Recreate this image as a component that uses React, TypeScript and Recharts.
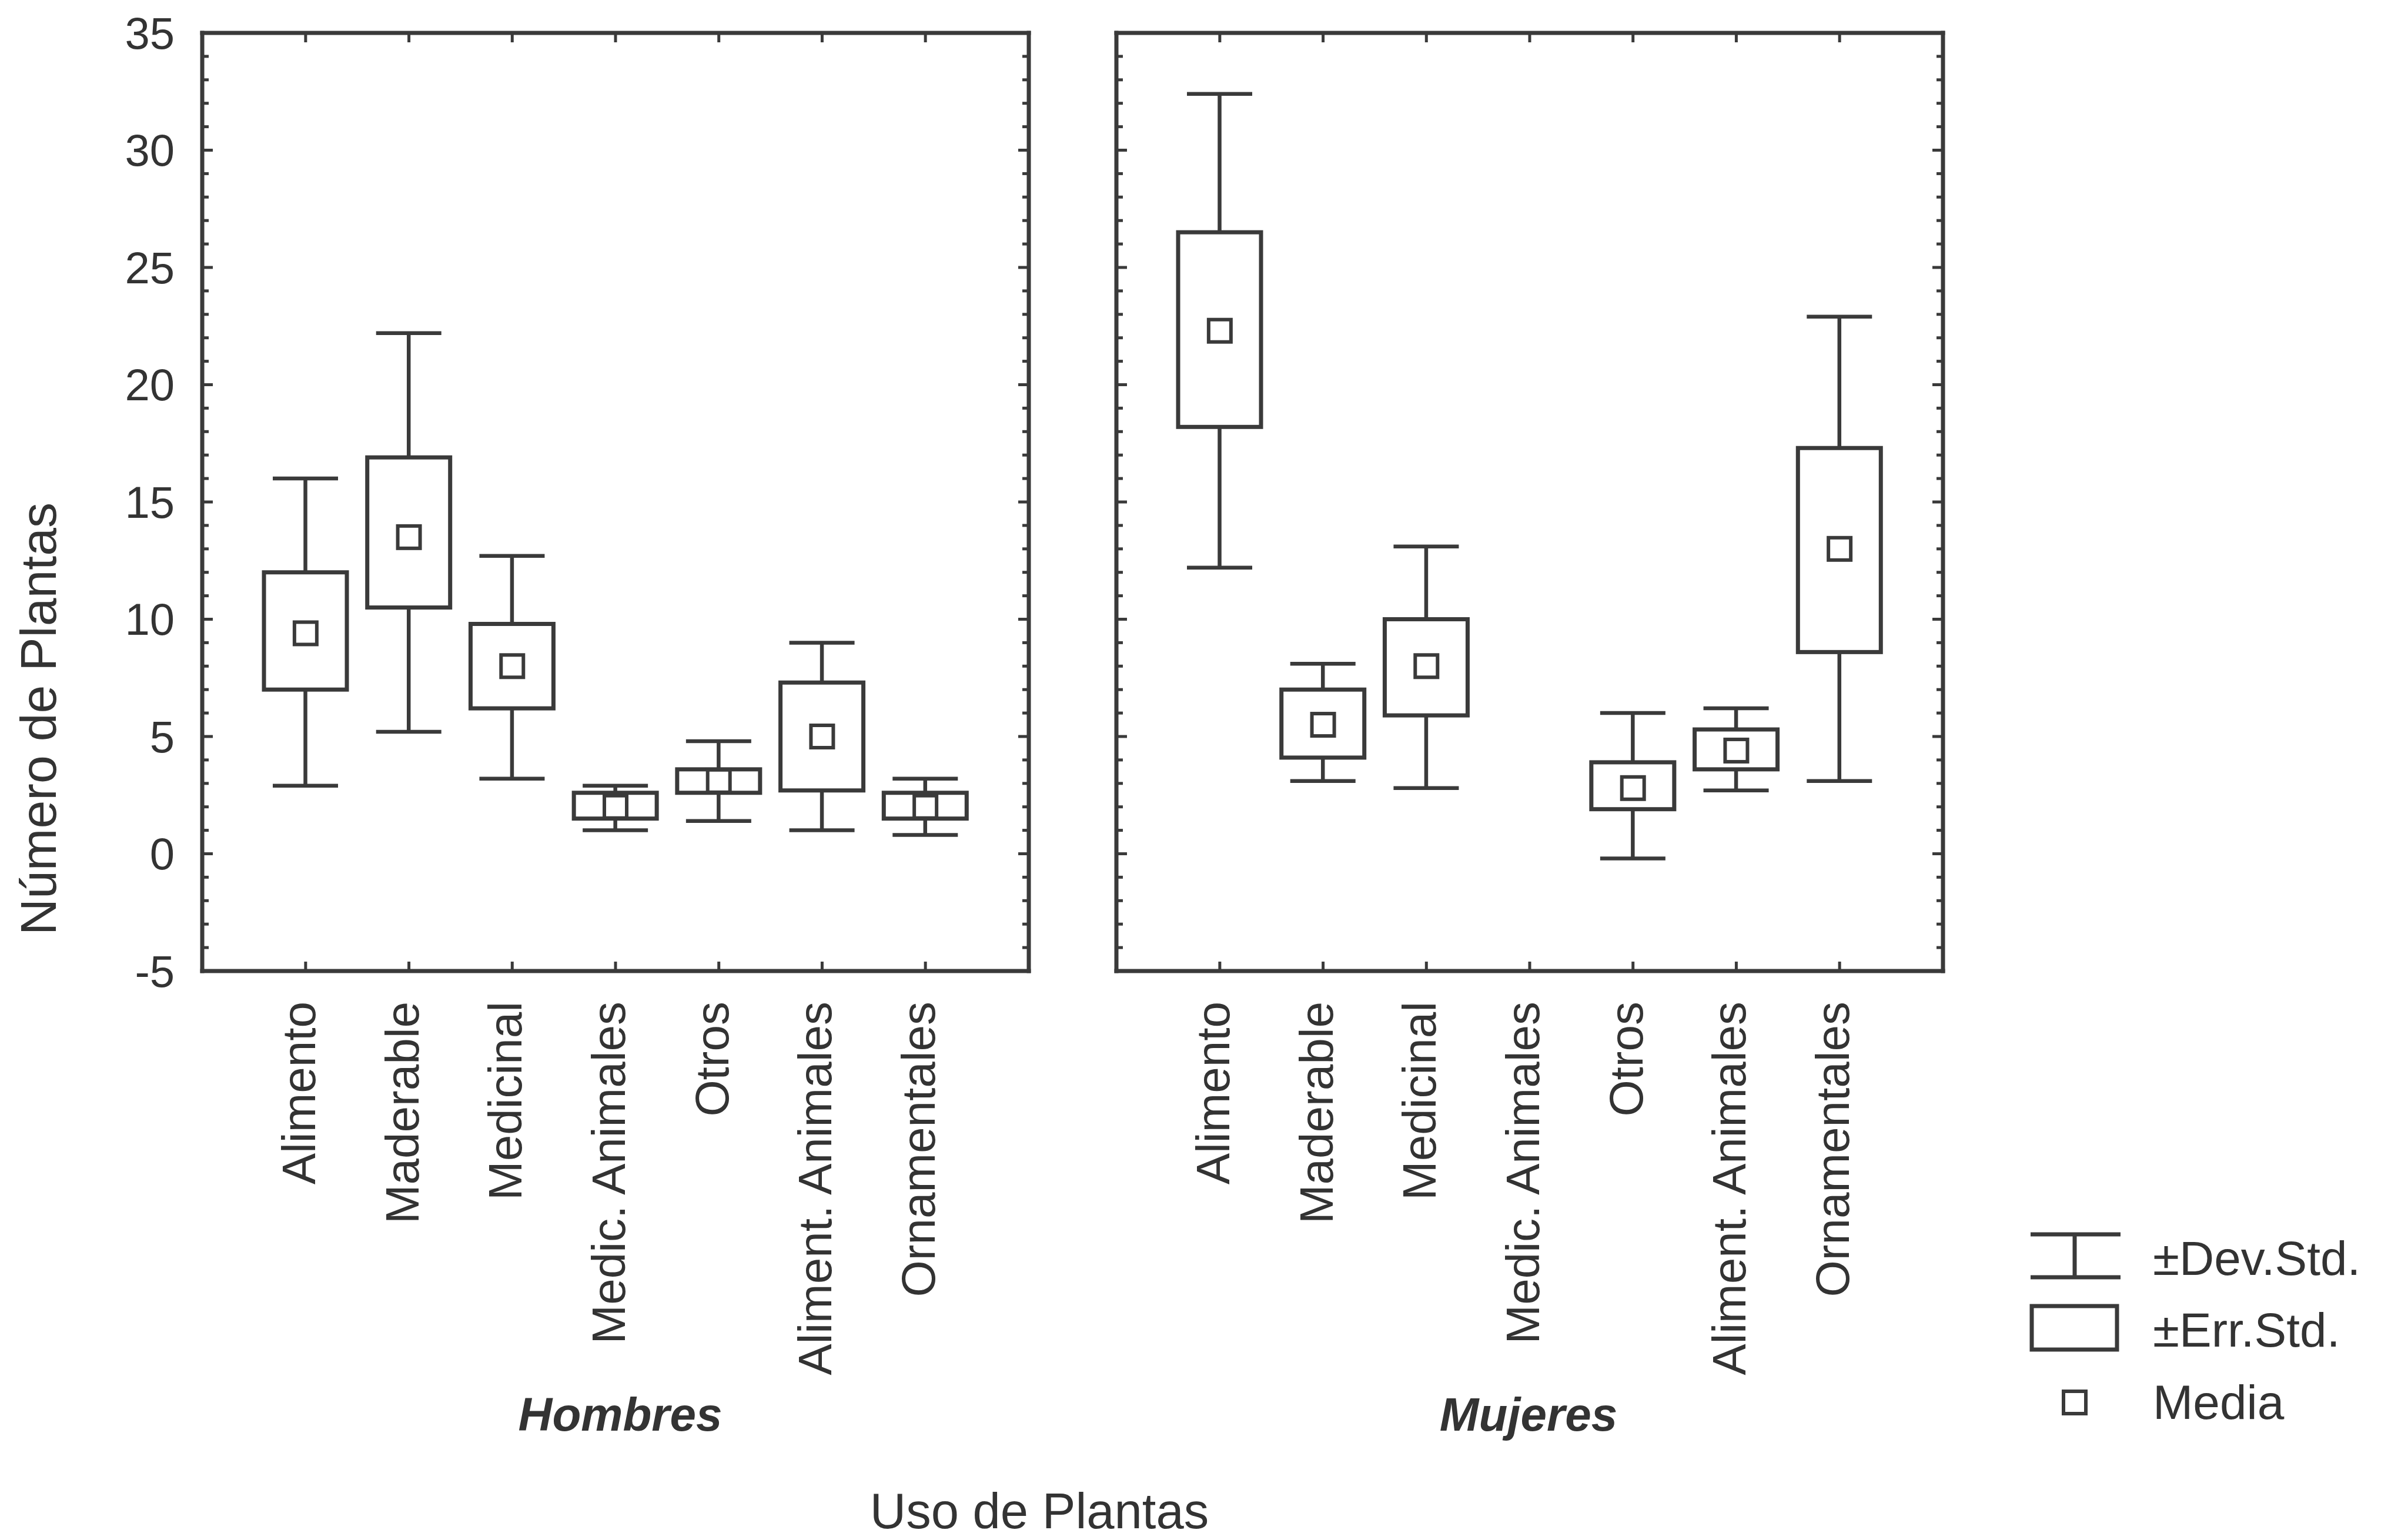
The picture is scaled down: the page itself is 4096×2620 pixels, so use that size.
import React from "react";
import { ComposedChart, Bar, Scatter, XAxis, YAxis, Legend, Label } from "recharts";

const categories = [
  "Alimento",
  "Maderable",
  "Medicinal",
  "Medic. Animales",
  "Otros",
  "Aliment. Animales",
  "Ornamentales",
];

// Hombres
const hombresMedia = [9.4, 13.5, 8.0, 2.0, 3.1, 5.0, 2.0];
const hombresErrLow = [7.0, 10.5, 6.2, 1.5, 2.6, 2.7, 1.5];
const hombresErrHigh = [12.0, 16.9, 9.8, 2.6, 3.6, 7.3, 2.6];
const hombresDevLow = [2.9, 5.2, 3.2, 1.0, 1.4, 1.0, 0.8];
const hombresDevHigh = [16.0, 22.2, 12.7, 2.9, 4.8, 9.0, 3.2];

// Mujeres (no values for Medic. Animales)
const mujeresMedia = [22.3, 5.5, 8.0, null, 2.8, 4.4, 13.0];
const mujeresErrLow = [18.2, 4.1, 5.9, null, 1.9, 3.6, 8.6];
const mujeresErrHigh = [26.5, 7.0, 10.0, null, 3.9, 5.3, 17.3];
const mujeresDevLow = [12.2, 3.1, 2.8, null, -0.2, 2.7, 3.1];
const mujeresDevHigh = [32.4, 8.1, 13.1, null, 6.0, 6.2, 22.9];

const yTickLabels = [-5, 0, 5, 10, 15, 20, 25, 30, 35];
const legendLabels = ["±Dev.Std.", "±Err.Std.", "Media"];

const INK = "#3a3a3a";
const TEXT = "#333";
const FONT = "'Liberation Sans', Arial, Helvetica, sans-serif";
const Y_DOMAIN = [-5, 35];
const yMinorTicks = Array.from({ length: 41 }, (_, i) => i - 5);
const CAT_PAD = 88;
const Y_LABEL_GAP = 47;
const X_LABEL_GAP = 52;

type Row = {
  cat: string;
  media: number | null;
  err: [number, number] | null;
  dev: [number, number] | null;
};

function buildRows(
  media: (number | null)[],
  errLow: (number | null)[],
  errHigh: (number | null)[],
  devLow: (number | null)[],
  devHigh: (number | null)[]
): Row[] {
  return categories.map((cat, i) => ({
    cat,
    media: media[i],
    err: media[i] == null ? null : [errLow[i] as number, errHigh[i] as number],
    dev: media[i] == null ? null : [devLow[i] as number, devHigh[i] as number],
  }));
}

const hombresRows = buildRows(hombresMedia, hombresErrLow, hombresErrHigh, hombresDevLow, hombresDevHigh);
const mujeresRows = buildRows(mujeresMedia, mujeresErrLow, mujeresErrHigh, mujeresDevLow, mujeresDevHigh);

const WhiskerShape = (p: any) => {
  const { x, y, width, height, payload } = p;
  if (!payload || payload.dev == null || !Number.isFinite(y)) return null;
  const top = Math.min(y, y + height);
  const bottom = Math.max(y, y + height);
  const cx = x + width / 2;
  return (
    <g stroke={INK} strokeWidth={6.5} fill="none">
      <line x1={cx} y1={top} x2={cx} y2={bottom} />
      <line x1={x} y1={top} x2={x + width} y2={top} />
      <line x1={x} y1={bottom} x2={x + width} y2={bottom} />
    </g>
  );
};

const BoxShape = (p: any) => {
  const { x, y, width, height, payload } = p;
  if (!payload || payload.err == null || !Number.isFinite(y)) return null;
  const top = Math.min(y, y + height);
  return (
    <rect x={x} y={top} width={width} height={Math.abs(height)} fill="#fff" stroke={INK} strokeWidth={7} />
  );
};

const MeanShape = (p: any) => {
  const { cx, cy, payload } = p;
  if (!payload || payload.media == null || !Number.isFinite(cy)) return null;
  const s = 38;
  return <rect x={cx - s / 2} y={cy - s / 2} width={s} height={s} fill="#fff" stroke={INK} strokeWidth={6} />;
};

const makeLeftTick = (showLabels: boolean) => (p: any) => {
  const { x, y, payload } = p;
  const axisX = x + Y_LABEL_GAP;
  const major = payload.value % 5 === 0;
  return (
    <g>
      <line x1={axisX} x2={axisX + (major ? 18 : 11)} y1={y} y2={y} stroke={INK} strokeWidth={5} />
      {showLabels && major ? (
        <text x={x} y={y} textAnchor="end" dominantBaseline="central" fontSize={76} fontFamily={FONT} fill={TEXT}>
          {payload.value}
        </text>
      ) : null}
    </g>
  );
};

const RightTick = (p: any) => {
  const { x, y, payload } = p;
  const major = payload.value % 5 === 0;
  return <line x1={x} x2={x - (major ? 18 : 11)} y1={y} y2={y} stroke={INK} strokeWidth={5} />;
};

const TopTick = (p: any) => {
  const { x, y } = p;
  return <line x1={x} x2={x} y1={y} y2={y + 16} stroke={INK} strokeWidth={5} />;
};

const BottomTick = (p: any) => {
  const { x, y, payload } = p;
  const axisY = y - X_LABEL_GAP;
  const bx = x + 16;
  return (
    <g>
      <line x1={x} x2={x} y1={axisY} y2={axisY - 16} stroke={INK} strokeWidth={5} />
      <text
        x={bx}
        y={y}
        transform={`rotate(-90 ${bx} ${y})`}
        textAnchor="end"
        fontSize={80}
        fontFamily={FONT}
        fill={TEXT}
      >
        {payload.value}
      </text>
    </g>
  );
};

const LegendBox = () => (
  <svg width={700} height={380} style={{ overflow: "visible" }}>
    <g stroke={INK} fill="none">
      <line x1={14} x2={167} y1={30} y2={30} strokeWidth={7} />
      <line x1={14} x2={167} y1={103} y2={103} strokeWidth={7} />
      <line x1={89} x2={89} y1={30} y2={103} strokeWidth={7} />
      <rect x={16} y={152} width={145} height={74} strokeWidth={7} />
      <rect x={70} y={297} width={38} height={38} strokeWidth={6} />
    </g>
    {legendLabels.map((t, i) => (
      <text
        key={t}
        x={222}
        y={[70, 192, 315][i]}
        dominantBaseline="central"
        fontSize={82}
        fontFamily={FONT}
        fill={TEXT}
      >
        {t}
      </text>
    ))}
  </svg>
);

type PanelProps = {
  rows: Row[];
  group: string;
  margin: { top: number; right: number; bottom: number; left: number };
  yAxisWidth: number;
  first: boolean;
};

function Panel({ rows, group, margin, yAxisWidth, first }: PanelProps) {
  const axisLine = { stroke: INK, strokeWidth: 7, strokeLinecap: "square" as const };
  return (
    <div style={{ position: "absolute", left: 0, top: 0 }}>
      <ComposedChart width={4096} height={2620} data={rows} margin={margin}>
        <XAxis
          xAxisId="main"
          dataKey="cat"
          type="category"
          padding={{ left: CAT_PAD, right: CAT_PAD }}
          height={400}
          interval={0}
          tickSize={0}
          tickMargin={X_LABEL_GAP}
          tickLine={false}
          axisLine={axisLine}
          tick={BottomTick}
        >
          <Label
            content={(lp: any) => {
              const vb = lp.viewBox || {};
              return (
                <text
                  x={vb.x + vb.width / 2 + (first ? 8 : -2)}
                  y={2406}
                  textAnchor="middle"
                  dominantBaseline="central"
                  fontSize={80}
                  fontWeight="bold"
                  fontStyle="italic"
                  fontFamily={FONT}
                  fill={TEXT}
                >
                  {group}
                </text>
              );
            }}
          />
          {first ? (
            <Label
              content={() => (
                <text
                  x={1768}
                  y={2570}
                  textAnchor="middle"
                  dominantBaseline="central"
                  fontSize={85}
                  fontFamily={FONT}
                  fill={TEXT}
                >
                  Uso de Plantas
                </text>
              )}
            />
          ) : null}
        </XAxis>
        <XAxis
          xAxisId="top"
          dataKey="cat"
          type="category"
          orientation="top"
          padding={{ left: CAT_PAD, right: CAT_PAD }}
          height={10}
          interval={0}
          tickSize={0}
          tickMargin={0}
          tickLine={false}
          axisLine={axisLine}
          tick={TopTick}
        />
        <XAxis
          xAxisId="w"
          dataKey="cat"
          type="category"
          padding={{ left: CAT_PAD, right: CAT_PAD }}
          hide
        />
        <YAxis
          yAxisId="l"
          type="number"
          domain={Y_DOMAIN}
          allowDataOverflow
          ticks={yMinorTicks}
          interval={0}
          width={yAxisWidth}
          tickSize={0}
          tickMargin={Y_LABEL_GAP}
          tickLine={false}
          axisLine={axisLine}
          tick={makeLeftTick(first)}
        >
          {first ? (
            <Label
              content={() => (
                <text
                  x={95}
                  y={1223}
                  transform="rotate(-90 95 1223)"
                  textAnchor="middle"
                  fontSize={86}
                  fontFamily={FONT}
                  fill={TEXT}
                >
                  Número de Plantas
                </text>
              )}
            />
          ) : null}
        </YAxis>
        <YAxis
          yAxisId="r"
          orientation="right"
          type="number"
          domain={Y_DOMAIN}
          allowDataOverflow
          ticks={yMinorTicks}
          interval={0}
          width={10}
          tickSize={0}
          tickMargin={0}
          tickLine={false}
          axisLine={axisLine}
          tick={RightTick}
        />
        <Bar
          xAxisId="w"
          yAxisId="l"
          dataKey="dev"
          barSize={111}
          shape={WhiskerShape}
          isAnimationActive={false}
        />
        <Bar
          xAxisId="main"
          yAxisId="l"
          dataKey="err"
          barSize={141}
          shape={BoxShape}
          isAnimationActive={false}
        />
        <Scatter
          xAxisId="main"
          yAxisId="l"
          dataKey="media"
          shape={MeanShape}
          isAnimationActive={false}
        />
        {!first ? (
          <Legend
            layout="horizontal"
            verticalAlign="middle"
            align="center"
            content={LegendBox}
            wrapperStyle={{ left: 3440, top: 2070, width: 700, height: 380 }}
          />
        ) : null}
      </ComposedChart>
    </div>
  );
}

export default function App() {
  return (
    <div
      style={{
        position: "absolute",
        left: 0,
        top: 0,
        width: 4096,
        height: 2620,
        background: "#fff",
        fontFamily: FONT,
      }}
    >
      <Panel
        rows={hombresRows}
        group="Hombres"
        margin={{ top: 46, right: 2336, bottom: 568, left: 194 }}
        yAxisWidth={150}
        first
      />
      <Panel
        rows={mujeresRows}
        group="Mujeres"
        margin={{ top: 46, right: 781, bottom: 568, left: 1889 }}
        yAxisWidth={10}
        first={false}
      />
    </div>
  );
}
